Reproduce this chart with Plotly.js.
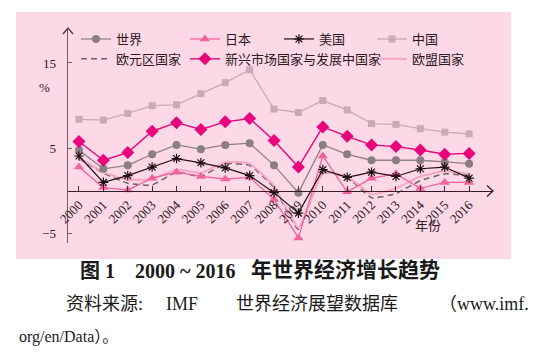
<!DOCTYPE html>
<html><head><meta charset="utf-8">
<script src="https://cdn.plot.ly/plotly-3.0.1.min.js"></script>
<style>html,body{margin:0;padding:0;background:#fff}#c{width:555px;height:364px}</style>
</head><body><div id="c"></div>
<script>
const years = [2000,2001,2002,2003,2004,2005,2006,2007,2008,2009,2010,2011,2012,2013,2014,2015,2016];
const world    = [4.8,2.6,3.0,4.3,5.4,4.9,5.4,5.6,3.0,-0.2,5.4,4.3,3.6,3.6,3.6,3.4,3.2];
const japan    = [2.8,0.4,0.1,1.5,2.2,1.7,1.4,1.6,-1.0,-5.5,4.1,-0.1,1.5,2.0,0.3,1.0,1.0];
const usa      = [4.1,1.0,1.8,2.8,3.8,3.3,2.7,1.8,-0.2,-2.6,2.5,1.6,2.2,1.7,2.6,2.8,1.5];
const china    = [8.4,8.3,9.1,10.0,10.1,11.4,12.7,14.2,9.6,9.2,10.6,9.5,7.9,7.8,7.3,6.9,6.7];
const euro     = [3.8,2.1,0.9,0.7,2.2,1.7,3.2,3.0,0.4,-4.5,2.1,1.6,-0.8,-0.3,1.2,2.0,1.8];
const emerging = [5.8,3.6,4.5,7.0,8.0,7.2,8.1,8.5,5.9,2.8,7.5,6.4,5.4,5.2,4.8,4.3,4.4];
const eu       = [3.9,2.2,1.3,1.4,2.5,2.1,3.4,3.2,0.6,-4.3,2.1,1.7,-0.4,0.3,1.7,2.3,2.0];
const yTicks = [-5,5,15];
const yTickText = ['\u22125','5','15'];

const FF = '"Liberation Serif","Noto Sans CJK SC",serif';
const lf = {family:FF, size:13, color:'#2a1a1e'};
const traces = [
  {x:years,y:euro,name:'欧元区国家',mode:'lines',line:{color:'#6b6468',width:1.5,dash:'6px,4px',shape:'spline',smoothing:0.4},legend:'legend'},
  {x:years,y:eu,name:'欧盟国家',mode:'lines',line:{color:'#f7a6c3',width:2,shape:'spline',smoothing:0.4},legend:'legend4'},
  {x:years,y:china,name:'中国',mode:'lines+markers',line:{color:'#c9aab7',width:1.3},marker:{symbol:'square',size:7,color:'#c9aab7'},legend:'legend4'},
  {x:years,y:world,name:'世界',mode:'lines+markers',line:{color:'#8d8187',width:1.3},marker:{symbol:'circle',size:8,color:'#8a7d83'},legend:'legend'},
  {x:years,y:japan,name:'日本',mode:'lines+markers',line:{color:'#f2639c',width:1.3},marker:{symbol:'triangle-up',size:9,color:'#f2639c'},legend:'legend2'},
  {x:years,y:usa,name:'美国',mode:'lines+markers',line:{color:'#1e0e12',width:1.2},marker:{symbol:'asterisk-open',size:8,color:'#1e0e12',line:{color:'#1e0e12',width:1.2}},legend:'legend3'},
  {x:years,y:emerging,name:'新兴市场国家与发展中国家',mode:'lines+markers',line:{color:'#e8057c',width:1.4},marker:{symbol:'diamond',size:10,color:'#e8057c'},legend:'legend2'}
];
const L = 68, W = 425, T = 28, H = 215;
const px = v => (v - L) / W, py = v => (T + H - v) / H;
const legBase = {orientation:'v',font:lf,bgcolor:'rgba(0,0,0,0)',yanchor:'top',xanchor:'left',y:py(24),itemwidth:30,tracegroupgap:0};
const txt = (x, y, text, size, xanchor) => ({xref:'paper',yref:'paper',x:px(x),y:py(y),xanchor:xanchor||'center',text:text,showarrow:false,
  font:{family:FF,size:size,color:'#1a1a1a'}});
const layout = {
  width:555,height:364,
  margin:{l:L,r:555-L-W,t:T,b:364-T-H},
  paper_bgcolor:'#ffffff',plot_bgcolor:'rgba(0,0,0,0)',
  showlegend:true,
  legend:Object.assign({},legBase,{x:px(76),traceorder:'reversed'}),
  legend2:Object.assign({},legBase,{x:px(185),traceorder:'normal'}),
  legend3:Object.assign({},legBase,{x:px(279)}),
  legend4:Object.assign({},legBase,{x:px(372),traceorder:'reversed'}),
  xaxis:{range:[1999.55,2016.98],tickvals:years,ticktext:years.map(String),tickangle:-45,
    ticks:'inside',ticklen:5,tickcolor:'#4a2a32',showline:true,linecolor:'#3a1a22',linewidth:1.3,
    showgrid:false,zeroline:false,anchor:'free',position:6.1/25.2,tickfont:lf},
  yaxis:{range:[-6.1,19.1],tickvals:yTicks,ticktext:yTickText,ticks:'inside',ticklen:4,tickcolor:'#7a5a66',
    showline:true,linecolor:'#7a5a66',linewidth:1.5,showgrid:false,zeroline:false,tickfont:lf,ticklabelstandoff:8},
  shapes:[
    {type:'rect',xref:'paper',yref:'paper',x0:px(16),x1:px(511),y0:py(259),y1:py(12),fillcolor:'#fdd8e6',line:{width:0},layer:'below'},
    {type:'path',xref:'paper',yref:'paper',path:`M ${px(63)} ${py(34)} L ${px(68)} ${py(28)} L ${px(73)} ${py(34)}`,line:{color:'#5a3a44',width:1.4}},
    {type:'path',xref:'paper',yref:'paper',path:`M ${px(487)} ${py(185.5)} L ${px(493)} ${py(191)} L ${px(487)} ${py(196.5)}`,line:{color:'#3a1a22',width:1.3}}
  ],
  annotations:[
    {xref:'paper',yref:'paper',x:px(37),y:py(78),text:'%',showarrow:false,font:lf},
    {xref:'paper',yref:'paper',x:px(443),y:py(235),text:'年份',showarrow:false,font:lf},
    txt(97, 284, '<b>图 1</b>', 20),
    txt(185, 284, '<b>2000 ~ 2016</b>', 20),
    txt(345, 284, '<b>年世界经济增长趋势</b>', 21),
    txt(104, 316, '资料来源:', 18),
    txt(182, 316, 'IMF', 18),
    txt(317, 316, '世界经济展望数据库', 18),
    txt(484, 316, '（www.imf.', 18),
    txt(17, 348, 'org/en/Data）。', 16, 'left')
  ]
};
Plotly.newPlot('c',traces,layout,{staticPlot:true,displayModeBar:false});
</script></body></html>
